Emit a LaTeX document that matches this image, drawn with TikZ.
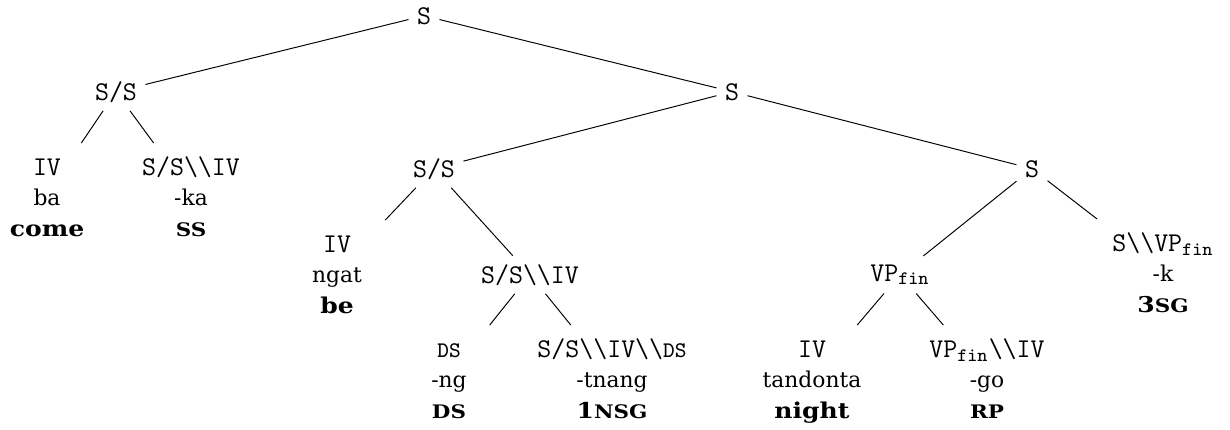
\documentclass[tikz,border=0pt]{standalone}
\usepackage{fontspec}
\setmainfont{DejaVu Serif}[BoldFeatures={FakeStretch=1.15}]
\newcommand{\ct}[1]{{\fontsize{11.2}{13}\selectfont\ttfamily #1}}
\newcommand{\bs}{\textbackslash}
\newcommand{\fin}{\textsubscript{fin}}
\newcommand{\fl}{\rule{0pt}{9.7pt}}
% small capitals drawn as reduced capitals
\newcommand{\ssc}[1]{{\fontsize{7.7}{8}\selectfont #1}}
\newcommand{\tsc}[1]{{\fontsize{9.2}{9}\selectfont #1}}
\tikzset{
  cat/.style={anchor=base, inner sep=3.33pt, font={\fontsize{11.2}{13}\selectfont\ttfamily}},
  leaf/.style={anchor=north, align=center, inner sep=3.33pt, minimum width=56pt,
    font={\fontsize{9}{12.6}\selectfont}},
}
\begin{document}
\begin{tikzpicture}[x=0.4132pt, y=-0.4132pt]
\useasboundingbox (0,0) rectangle (1230,429);
% inner categories
\node[cat] (root) at (424,24) {S};
\node[cat] (sl) at (116,100) {S/S};
\node[cat] (sm) at (732,100) {S};
\node[cat] (ssm) at (434,177) {S/S};
\node[cat] (sr) at (1032,177) {S};
\node[cat] (ssiv) at (530,283) {S/S\bs\bs IV};
\node[cat] (vp) at (900,281) {VP\fin};
% leaves: category, morph, gloss
\node[leaf] (a) at (47,143) {\fl\ct{IV}\\ ba\\ \textbf{come}};
\node[leaf] (b) at (191,143) {\fl\ct{S/S\bs\bs IV}\\ -ka\\ \textbf{\ssc{SS}}};
\node[leaf] (c) at (337,220) {\fl\ct{IV}\\ ngat\\ \textbf{be}};
\node[leaf] (k) at (1163,219) {\fl\ct{S\bs\bs VP\fin}\\ -k\\ \textbf{3\ssc{SG}}};
\node[leaf] (ds) at (449,325) {\fl\ct{\tsc{DS}}\\ -ng\\ \textbf{\ssc{DS}}};
\node[leaf] (tn) at (612,325) {\fl\ct{S/S\bs\bs IV\bs\bs\tsc{DS}}\\ -tnang\\ \textbf{1\ssc{NSG}}};
\node[leaf] (iv) at (812,325) {\fl\ct{IV}\\ tandonta\\ \textbf{night}};
\node[leaf] (go) at (987,325) {\fl\ct{VP\fin\bs\bs IV}\\ -go\\ \textbf{\ssc{RP}}};
% branches
\draw (root) -- (sl);
\draw (root) -- (sm);
\draw (sl) -- (a);
\draw (sl) -- (b);
\draw (sm) -- (ssm);
\draw (sm) -- (sr);
\draw (ssm) -- (c);
\draw (ssm) -- (ssiv);
\draw (ssiv) -- (ds);
\draw (ssiv) -- (tn);
\draw (sr) -- (vp);
\draw (sr) -- (k);
\draw (vp) -- (iv);
\draw (vp) -- (go);
\end{tikzpicture}
\end{document}
